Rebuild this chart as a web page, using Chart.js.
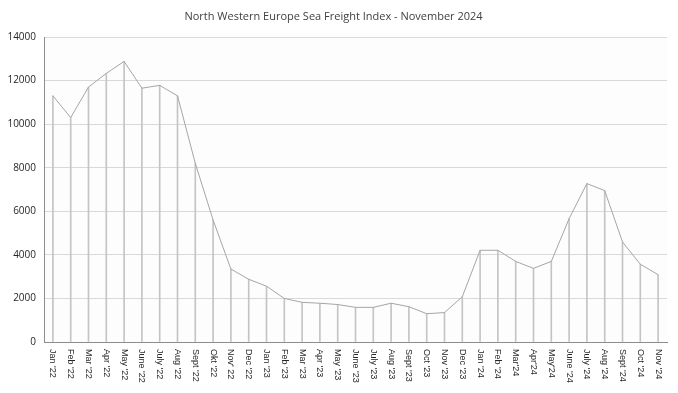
<!DOCTYPE html>
<html>
<head>
<meta charset="utf-8">
<script src="https://cdn.jsdelivr.net/npm/chart.js@4/dist/chart.umd.min.js"></script>
<style>
html,body{margin:0;padding:0;background:#fff;}
#wrap{width:678px;height:393px;position:relative;}
</style>
</head>
<body>
<div id="wrap"><canvas id="c" width="678" height="393"></canvas></div>
<script>
const titleText = "North Western Europe Sea Freight Index - November 2024";
const categories = ["Jan '22","Feb '22","Mar '22","Apr '22","May '22","June '22","July '22","Aug '22","Sept '22","Okt '22","Nov' 22","Dec '22",
  "Jan '23","Feb '23","Mar '23","Apr '23","May '23","June '23","July '23","Aug '23","Sept '23","Oct '23","Nov '23","Dec '23",
  "Jan '24","Feb '24","Mar'24","Apr'24","May'24","June '24","July '24","Aug '24","Sept '24","Oct '24","Nov '24"];
const indexValues = [11300,10300,11700,12330,12880,11650,11780,11300,8200,5600,3350,2880,
  2560,2000,1820,1780,1720,1590,1590,1780,1620,1300,1350,2080,
  4210,4210,3700,3380,3700,5660,7270,6950,4590,3570,3090];
const yMin = 0, yMax = 14000, yStep = 2000;

const plotBg = {
  id: 'plotBg',
  beforeDraw(chart) {
    const {ctx, chartArea: a} = chart;
    ctx.save();
    ctx.fillStyle = '#fdfdfd';
    ctx.fillRect(a.left, a.top, a.right - a.left, a.bottom - a.top);
    ctx.restore();
  }
};
const xLabels = {
  id: 'xLabels',
  afterDraw(chart) {
    const {ctx} = chart;
    const xs = chart.scales.x;
    const top = chart.chartArea.bottom + 7;
    ctx.save();
    ctx.fillStyle = '#262626';
    ctx.font = '9px "Liberation Sans"';
    ctx.textAlign = 'left';
    ctx.textBaseline = 'middle';
    categories.forEach((lab, i) => {
      const x = xs.getPixelForTick(i);
      ctx.save();
      ctx.translate(x, top);
      ctx.rotate(Math.PI / 2);
      ctx.fillText(lab, 0, 0);
      ctx.restore();
    });
    ctx.restore();
  }
};

new Chart(document.getElementById('c'), {
  data: {
    labels: categories,
    datasets: [
      {
        type: 'line',
        data: indexValues,
        borderColor: '#a6a6a6',
        borderWidth: 1,
        pointRadius: 0,
        tension: 0,
        fill: false,
        order: 1
      },
      {
        type: 'bar',
        data: indexValues,
        backgroundColor: '#c4c4c4',
        barThickness: 1,
        order: 2
      }
    ]
  },
  options: {
    responsive: false,
    animation: false,
    layout: {padding: {left: 0, right: 11, top: 0, bottom: 0}},
    plugins: {
      legend: {display: false},
      tooltip: {enabled: false},
      title: {
        display: true,
        text: titleText,
        color: '#404040',
        font: {family: '"Open Sans"', size: 11, weight: 'normal', lineHeight: 1.2},
        padding: {top: 10, bottom: 13.8}
      }
    },
    scales: {
      x: {
        type: 'category',
        offset: true,
        grid: {display: false},
        border: {display: true, color: '#8c8c8c', width: 1},
        ticks: {display: false},
        afterFit(s) { s.height = 51; }
      },
      y: {
        min: yMin, max: yMax,
        ticks: {stepSize: yStep, padding: 8, color: '#262626', font: {family: '"Open Sans"', size: 10},
          callback: v => String(v)},
        grid: {color: '#d9d9d9', drawTicks: false},
        border: {display: true, color: '#8c8c8c', width: 1},
        afterFit(s) { s.width = 44; }
      }
    }
  },
  plugins: [plotBg, xLabels]
});
</script>
</body>
</html>
